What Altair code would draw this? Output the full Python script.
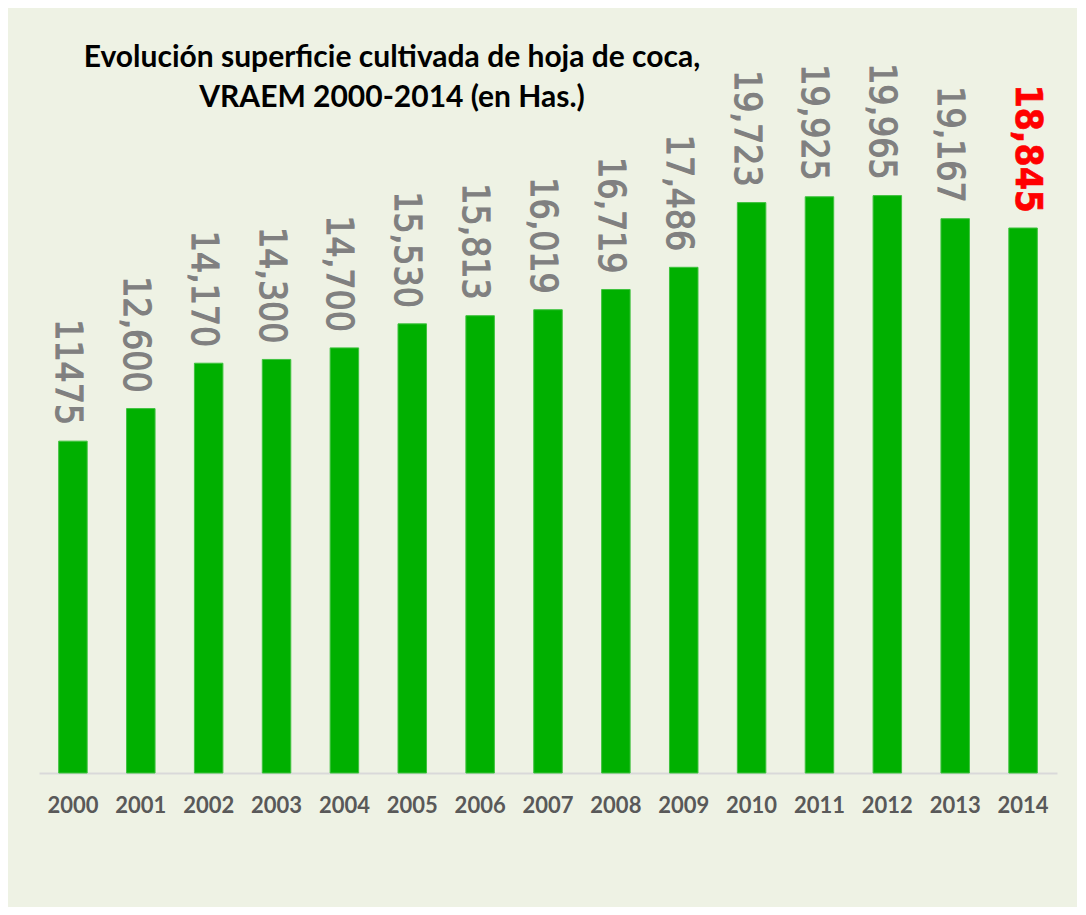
import altair as alt
import pandas as pd

years = ["2000", "2001", "2002", "2003", "2004", "2005", "2006", "2007",
         "2008", "2009", "2010", "2011", "2012", "2013", "2014"]
values = [11475, 12600, 14170, 14300, 14700, 15530, 15813, 16019,
          16719, 17486, 19723, 19925, 19965, 19167, 18845]
labels = ["11475", "12,600", "14,170", "14,300", "14,700", "15,530", "15,813",
          "16,019", "16,719", "17,486", "19,723", "19,925", "19,965", "19,167",
          "18,845"]
highlight_year = "2014"
title_lines = ["Evolución superficie cultivada de hoja de coca,",
               "VRAEM 2000-2014 (en Has.)"]

df = pd.DataFrame({"year": years, "value": values, "label": labels})

BG = "#EEF2E4"
LABEL_FONT = "'DejaVu Sans Condensed', 'Liberation Sans', sans-serif"

x_enc = alt.X("year:N", sort=years,
              scale=alt.Scale(paddingInner=0.58, paddingOuter=0.29),
              axis=alt.Axis(title=None, labelAngle=0, labelFont="Lato",
                            labelFontWeight="bold", labelFontSize=22,
                            labelColor="#595959", labelPadding=22,
                            ticks=False, domainColor="#D9D9D9",
                            domainWidth=2, grid=False))
y_enc = alt.Y("value:Q", scale=alt.Scale(domain=[0, 25000], nice=False),
              axis=None)

base = alt.Chart(df).encode(x=x_enc, y=y_enc)

bars = base.mark_bar(color="#00B000", stroke="#3FC23F", strokeWidth=1)

gray_labels = base.transform_filter(
    alt.datum.year != highlight_year
).mark_text(angle=90, align="right", baseline="middle", dx=-16, dy=6,
            font=LABEL_FONT, fontSize=37, color="#808080",
            stroke="#808080", strokeWidth=1.1).encode(
    text="label:N")

red_labels = base.transform_filter(
    alt.datum.year == highlight_year
).mark_text(angle=90, align="right", baseline="middle", dx=-15, dy=-4,
            font=LABEL_FONT, fontSize=37, fontWeight="bold",
            color="#FF0000", stroke="#FF0000", strokeWidth=0.6).encode(
    text="label:N")

chart = alt.layer(bars, gray_labels, red_labels).properties(
    width=1018, height=723,
    title=alt.TitleParams(
        text=title_lines, anchor="start", align="center", frame="group",
        font="Lato", fontSize=30, fontWeight="bold", color="#000000",
        lineHeight=40, dx=353, dy=63, offset=0),
    padding={"left": 31, "right": 20, "top": 42, "bottom": 134},
    autosize=alt.AutoSizeParams(type="none"),
).configure(background=BG).configure_view(stroke=None)

chart.save("out.html", embed_options={"renderer": "svg", "actions": False})
